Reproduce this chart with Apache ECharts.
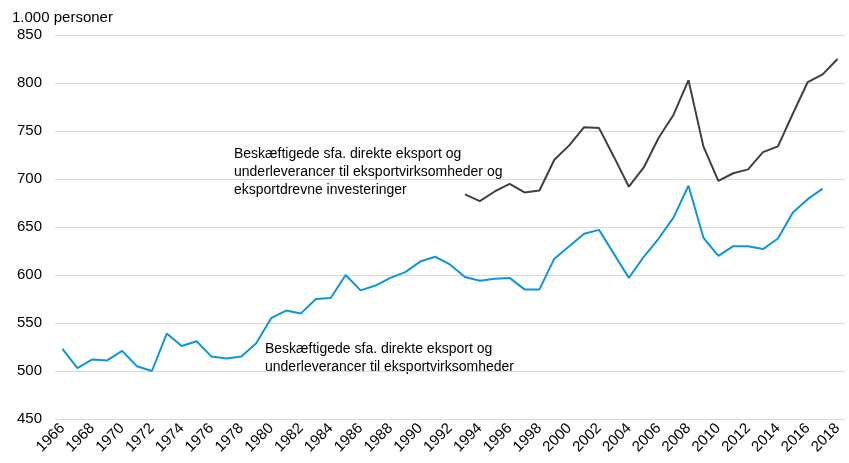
<!DOCTYPE html>
<html>
<head>
<meta charset="utf-8">
<script src="https://cdn.jsdelivr.net/npm/echarts@6/dist/echarts.min.js"></script>
<style>
  html, body { margin: 0; padding: 0; background: #fff; }
  #chart { width: 849px; height: 463px; }
</style>
</head>
<body>
<div id="chart"></div>
<script>
// years 1966-2018
const years = [];
for (let y = 1966; y <= 2018; y++) years.push(String(y));

// direkte eksport + underleverancer, 1966-2017 (1.000 personer)
const direkte = [
  523, 503, 512, 511, 521, 505, 500, 539, 526, 531,
  515, 513, 515, 529, 555, 563, 560, 575, 576, 600,
  584, 589, 597, 603, 614, 619, 611, 598, 594, 596,
  597, 585, 585, 617, 630, 643, 647, 622, 597, 619,
  638, 660, 693, 639, 620, 630, 630, 627, 638, 665,
  679, 690, null
];

// incl. eksportdrevne investeringer, 1993-2018
const inklInvest = [
  684, 677, 687, 695, 686, 688, 720, 735, 754, 753,
  723, 692, 712, 743, 767, 803, 734, 698, 706, 710,
  728, 734, 768, 801, 809, 825
];
const inklInvestFull = years.map((y) => (+y >= 1993 ? inklInvest[+y - 1993] : null));

const yTicks = [450, 500, 550, 600, 650, 700, 750, 800, 850];

const font = "'Liberation Sans', Arial, sans-serif";
const chart = echarts.init(document.getElementById("chart"), null, { renderer: "canvas" });

chart.setOption({
  animation: false,
  grid: { left: 55, right: 4, top: 35, bottom: 44 },
  xAxis: {
    type: "category",
    data: years,
    boundaryGap: true,
    axisLine: { show: false },
    axisTick: { show: false },
    axisLabel: {
      interval: 1,
      rotate: 45,
      fontFamily: font,
      fontSize: 15,
      color: "#000",
      margin: 7
    }
  },
  yAxis: {
    type: "value",
    min: yTicks[0],
    max: yTicks[yTicks.length - 1],
    interval: 50,
    axisLine: { show: false },
    axisTick: { show: false },
    axisLabel: { fontFamily: font, fontSize: 15, color: "#000", margin: 13 },
    splitLine: { lineStyle: { color: "#d9d9d9", width: 1 } }
  },
  series: [
    {
      type: "line",
      data: direkte,
      symbol: "none",
      lineStyle: { color: "#0f96d8", width: 2 }
    },
    {
      type: "line",
      data: inklInvestFull,
      symbol: "none",
      lineStyle: { color: "#404040", width: 2 }
    }
  ],
  graphic: [
    {
      type: "text", left: 12, top: 10,
      style: { text: "1.000 personer", font: "15px " + font, fill: "#000" }
    },
    {
      type: "text", left: 234, top: 145,
      style: {
        text: "Beskæftigede sfa. direkte eksport og\nunderleverancer til eksportvirksomheder og\neksportdrevne investeringer",
        font: "14px " + font, fill: "#000", lineHeight: 18
      }
    },
    {
      type: "text", left: 265, top: 340,
      style: {
        text: "Beskæftigede sfa. direkte eksport og\nunderleverancer til eksportvirksomheder",
        font: "14px " + font, fill: "#000", lineHeight: 18
      }
    }
  ]
});
</script>
</body>
</html>
